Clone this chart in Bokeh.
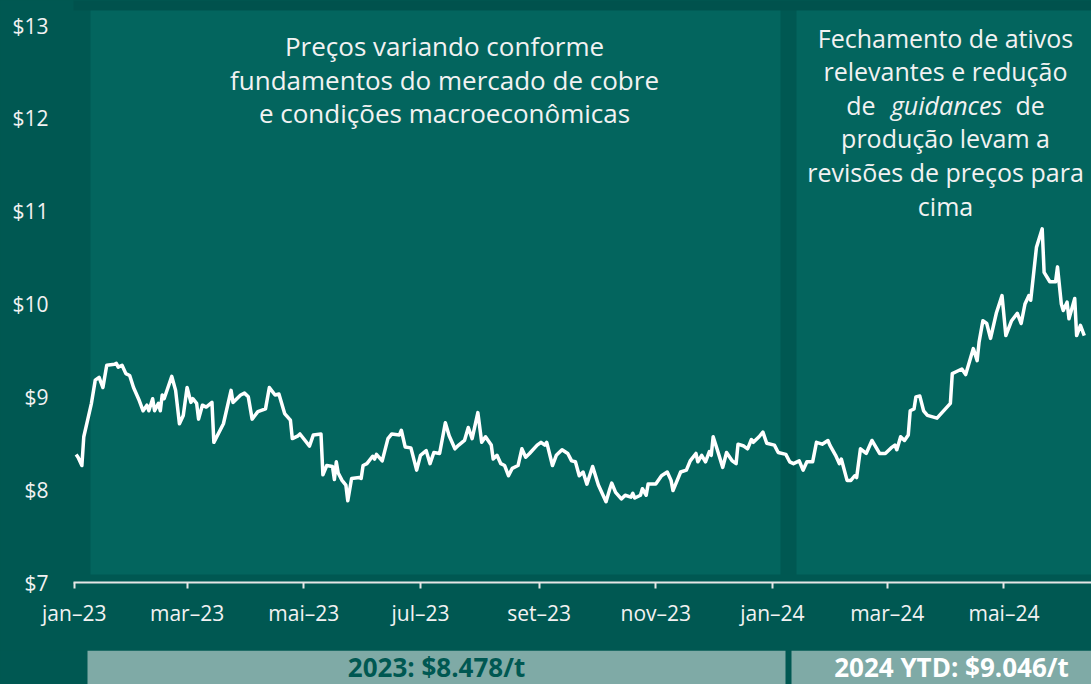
from datetime import datetime, timedelta
import pandas as pd
from bokeh.plotting import figure
from bokeh.layouts import column
from bokeh.models import FixedTicker, NumeralTickFormatter, CustomJSTickFormatter, Range1d
from bokeh.core.properties import value
from bokeh.embed import file_html
from bokeh.resources import INLINE

# ---------------- data (copper price, thousand US$/t) ----------------
dates = [
    "2023-01-02", "2023-01-03", "2023-01-05", "2023-01-06", "2023-01-08", "2023-01-10", "2023-01-12",
    "2023-01-14", "2023-01-16", "2023-01-18", "2023-01-22", "2023-01-23", "2023-01-24", "2023-01-26",
    "2023-01-28", "2023-01-30", "2023-02-01", "2023-02-04", "2023-02-06", "2023-02-08", "2023-02-09",
    "2023-02-11", "2023-02-12", "2023-02-14", "2023-02-15", "2023-02-16", "2023-02-17", "2023-02-21",
    "2023-02-23", "2023-02-25", "2023-02-27", "2023-03-01", "2023-03-03", "2023-03-04", "2023-03-06",
    "2023-03-07", "2023-03-09", "2023-03-11", "2023-03-14", "2023-03-15", "2023-03-20", "2023-03-24",
    "2023-03-25", "2023-03-29", "2023-03-31", "2023-04-02", "2023-04-04", "2023-04-07", "2023-04-11",
    "2023-04-13", "2023-04-16", "2023-04-18", "2023-04-21", "2023-04-24", "2023-04-25", "2023-04-28",
    "2023-04-29", "2023-05-04", "2023-05-06", "2023-05-10", "2023-05-11", "2023-05-13", "2023-05-16",
    "2023-05-17", "2023-05-18", "2023-05-19", "2023-05-21", "2023-05-23", "2023-05-24", "2023-05-26",
    "2023-05-30", "2023-05-31", "2023-06-01", "2023-06-03", "2023-06-06", "2023-06-07", "2023-06-08",
    "2023-06-11", "2023-06-14", "2023-06-16", "2023-06-20", "2023-06-21", "2023-06-23", "2023-06-26",
    "2023-06-29", "2023-07-01", "2023-07-04", "2023-07-06", "2023-07-08", "2023-07-11", "2023-07-14",
    "2023-07-16", "2023-07-19", "2023-07-21", "2023-07-24", "2023-07-26", "2023-07-28", "2023-07-31",
    "2023-08-02", "2023-08-04", "2023-08-07", "2023-08-08", "2023-08-10", "2023-08-12", "2023-08-14",
    "2023-08-16", "2023-08-18", "2023-08-21", "2023-08-23", "2023-08-25", "2023-08-27", "2023-08-31",
    "2023-09-02", "2023-09-04", "2023-09-05", "2023-09-08", "2023-09-10", "2023-09-13", "2023-09-16",
    "2023-09-18", "2023-09-20", "2023-09-22", "2023-09-24", "2023-09-26", "2023-09-29", "2023-10-02",
    "2023-10-06", "2023-10-08", "2023-10-09", "2023-10-11", "2023-10-14", "2023-10-16", "2023-10-19",
    "2023-10-20", "2023-10-21", "2023-10-24", "2023-10-25", "2023-10-27", "2023-10-28", "2023-11-01",
    "2023-11-04", "2023-11-07", "2023-11-09", "2023-11-10", "2023-11-14", "2023-11-17", "2023-11-19",
    "2023-11-22", "2023-11-23", "2023-11-25", "2023-11-27", "2023-11-29", "2023-11-30", "2023-12-01",
    "2023-12-03", "2023-12-06", "2023-12-08", "2023-12-11", "2023-12-13", "2023-12-14", "2023-12-17",
    "2023-12-19", "2023-12-21", "2023-12-22", "2023-12-25", "2023-12-27", "2023-12-29", "2024-01-02",
    "2024-01-04", "2024-01-08", "2024-01-10", "2024-01-12", "2024-01-15", "2024-01-17", "2024-01-19",
    "2024-01-22", "2024-01-24", "2024-01-27", "2024-01-30", "2024-01-31", "2024-02-03", "2024-02-05",
    "2024-02-06", "2024-02-09", "2024-02-11", "2024-02-13", "2024-02-14", "2024-02-16", "2024-02-19",
    "2024-02-22", "2024-02-26", "2024-02-29", "2024-03-03", "2024-03-05", "2024-03-06", "2024-03-08",
    "2024-03-10", "2024-03-12", "2024-03-13", "2024-03-15", "2024-03-16", "2024-03-18", "2024-03-20",
    "2024-03-22", "2024-03-27", "2024-04-03", "2024-04-04", "2024-04-06", "2024-04-09", "2024-04-11",
    "2024-04-14", "2024-04-15", "2024-04-17", "2024-04-18", "2024-04-20", "2024-04-22", "2024-04-24",
    "2024-04-27", "2024-04-30", "2024-05-02", "2024-05-05", "2024-05-08", "2024-05-10", "2024-05-12",
    "2024-05-14", "2024-05-15", "2024-05-18", "2024-05-21", "2024-05-22", "2024-05-25", "2024-05-28",
    "2024-05-29", "2024-05-31", "2024-06-01", "2024-06-03", "2024-06-04", "2024-06-07", "2024-06-08",
    "2024-06-10", "2024-06-12",
]
prices = [
    8.38, 8.35, 8.26, 8.57, 8.75, 8.93, 9.18,
    9.21, 9.10, 9.34, 9.35, 9.36, 9.32, 9.34,
    9.25, 9.23, 9.10, 8.96, 8.85, 8.91, 8.85,
    8.98, 8.85, 8.93, 8.85, 9.02, 8.98, 9.22,
    9.07, 8.71, 8.80, 9.10, 8.94, 8.98, 8.93,
    8.76, 8.91, 8.89, 8.94, 8.51, 8.71, 9.07,
    8.94, 9.02, 9.04, 9.00, 8.76, 8.84, 8.87,
    9.10, 9.02, 9.03, 8.82, 8.75, 8.55, 8.58,
    8.60, 8.47, 8.59, 8.60, 8.16, 8.26, 8.25,
    8.11, 8.30, 8.18, 8.10, 8.05, 7.88, 8.12,
    8.13, 8.12, 8.26, 8.28, 8.36, 8.33, 8.38,
    8.31, 8.55, 8.60, 8.59, 8.64, 8.46, 8.45,
    8.21, 8.37, 8.42, 8.28, 8.40, 8.39, 8.72,
    8.58, 8.44, 8.48, 8.53, 8.67, 8.55, 8.83,
    8.51, 8.57, 8.48, 8.33, 8.37, 8.28, 8.26,
    8.15, 8.23, 8.26, 8.44, 8.35, 8.39, 8.48,
    8.51, 8.48, 8.51, 8.26, 8.37, 8.43, 8.39,
    8.31, 8.30, 8.15, 8.19, 8.06, 8.25, 8.05,
    7.87, 8.01, 8.07, 7.97, 7.90, 7.94, 7.92,
    7.96, 7.91, 7.94, 8.01, 7.94, 8.06, 8.06,
    8.15, 8.19, 8.10, 7.99, 8.19, 8.21, 8.31,
    8.39, 8.30, 8.37, 8.30, 8.41, 8.37, 8.57,
    8.44, 8.24, 8.40, 8.31, 8.28, 8.49, 8.47,
    8.44, 8.54, 8.51, 8.57, 8.62, 8.50, 8.48,
    8.40, 8.38, 8.30, 8.28, 8.31, 8.21, 8.30,
    8.30, 8.51, 8.49, 8.53, 8.48, 8.37, 8.28,
    8.33, 8.10, 8.10, 8.15, 8.13, 8.44, 8.39,
    8.53, 8.39, 8.39, 8.45, 8.48, 8.43, 8.57,
    8.53, 8.59, 8.85, 8.87, 9.00, 9.01, 8.85,
    8.80, 8.77, 8.93, 9.25, 9.27, 9.30, 9.24,
    9.45, 9.52, 9.39, 9.59, 9.82, 9.79, 9.63,
    9.90, 10.09, 9.66, 9.82, 9.90, 9.79, 10.00,
    10.09, 10.04, 10.61, 10.81, 10.34, 10.24, 10.24,
    10.40, 10.00, 9.93, 10.02, 9.84, 10.06, 9.66,
    9.77, 9.66,
]

month_labels = ["jan", "fev", "mar", "abr", "mai", "jun", "jul", "ago", "set", "out", "nov", "dez"]
x_tick_dates = ["2023-01-01", "2023-03-01", "2023-05-01", "2023-07-01", "2023-09-01",
                "2023-11-01", "2024-01-01", "2024-03-01", "2024-05-01"]
y_ticks = [7, 8, 9, 10, 11, 12, 13]

note_left = ["Preços variando conforme",
             "fundamentos do mercado de cobre",
             "e condições macroeconômicas"]
note_right = ["Fechamento de ativos",
              "relevantes e redução",
              None,
              "produção levam a",
              "revisões de preços para",
              "cima"]
note_right_mixed = ["de", "guidances", "de"]
avg_labels = ["2023: $8.478/t", "2024 YTD: $9.046/t"]

# ---------------- layout / style ----------------
FONT = "Open Sans"
OUTER = "#005852"
TOP = "#00524D"
PANEL = "#03655E"
BOX = "#7FAAA6"
TXT = "#F2F2F2"

W = 1091
H_MAIN = 650
H_BOT = 34
BORDER_L = 73
FRAME_H = 582
FRAME_W = W - BORDER_L
PX_PER_DAY = 1.913
PX_PER_USD = 92.83
TXT_SHIFT = 9   # svg text "alphabetic" baseline sits this much lower

X_START = datetime(2022, 12, 31, 15)
X_END = X_START + timedelta(days=FRAME_W / PX_PER_DAY)
Y_START = 7.0
Y_END = 7.0 + FRAME_H / PX_PER_USD

# screen-pixel -> data helpers for annotation placement
def xd(px):
    return X_START + (px - BORDER_L) / FRAME_W * (X_END - X_START)

def yd(py):
    return Y_END - py / FRAME_H * (Y_END - Y_START)

x = pd.to_datetime(dates)

p = figure(width=W, height=H_MAIN, x_axis_type="datetime",
           x_range=Range1d(X_START, X_END), y_range=Range1d(Y_START, Y_END),
           output_backend="svg", toolbar_location=None,
           min_border_left=BORDER_L, min_border_right=0, min_border_top=0,
           min_border_bottom=H_MAIN - FRAME_H)
p.background_fill_color = OUTER
p.border_fill_color = OUTER
p.outline_line_color = None
p.grid.visible = False

# darker top strip and shaded period panels
p.quad(left=[xd(60)], right=[xd(1100)], bottom=[yd(10)], top=[yd(-5)],
       fill_color=TOP, line_color=None)
p.quad(left=[xd(90), xd(796)], right=[xd(780), xd(1100)],
       bottom=[yd(574)] * 2, top=[yd(10)] * 2,
       fill_color=PANEL, line_color=None)

p.line(x, prices, line_color="white", line_width=3.5, line_join="round")

# axes
xa = p.xaxis[0]
xa.ticker = FixedTicker(ticks=[pd.Timestamp(d).value // 10**6 for d in x_tick_dates])
xa.formatter = CustomJSTickFormatter(args=dict(m=month_labels), code="""
    const d = new Date(tick);
    return m[d.getUTCMonth()] + '\u2013' + String(d.getUTCFullYear()).slice(2);
""")
xa.axis_line_color = "#E6E6E6"
xa.axis_line_width = 2
xa.major_tick_line_color = "#E6E6E6"
xa.major_tick_line_width = 2
xa.major_tick_out = 6
xa.major_tick_in = 0
xa.minor_tick_line_color = None
xa.major_label_standoff = 10
xa.major_label_text_font = FONT
xa.major_label_text_font_size = "21px"
xa.major_label_text_color = TXT

ya = p.yaxis[0]
ya.ticker = FixedTicker(ticks=y_ticks)
ya.formatter = NumeralTickFormatter(format="$0")
ya.axis_line_color = None
ya.major_tick_line_color = None
ya.minor_tick_line_color = None
ya.major_tick_out = 0
ya.major_tick_in = 0
ya.major_label_standoff = 25
ya.major_label_text_font = FONT
ya.major_label_text_font_size = "21px"
ya.major_label_text_color = TXT

# annotations
left_base = [54.3, 88, 121.7]
p.text(x=[xd(444)] * 3, y=[yd(v - TXT_SHIFT) for v in left_base], text=note_left,
       text_align="center", text_baseline="alphabetic",
       text_font=value(FONT), text_font_size="26px", text_color=TXT)

R_SIZE = "25px"
r_base = [46, 79.6, 113.2, 146.8, 180.4, 214]
r_lines = [(t, bb) for t, bb in zip(note_right, r_base) if t is not None]
p.text(x=[xd(945)] * len(r_lines), y=[yd(bb - TXT_SHIFT) for _, bb in r_lines],
       text=[t for t, _ in r_lines],
       text_align="center", text_baseline="alphabetic",
       text_font=value(FONT), text_font_size=R_SIZE, text_color=TXT)
mid = r_base[2] - TXT_SHIFT
p.text(x=[xd(875)], y=[yd(mid)], text=[note_right_mixed[0]],
       text_align="right", text_baseline="alphabetic",
       text_font=value(FONT), text_font_size=R_SIZE, text_color=TXT)
p.text(x=[xd(946)], y=[yd(mid)], text=[note_right_mixed[1]],
       text_align="center", text_baseline="alphabetic", text_font_style="italic",
       text_font=value(FONT), text_font_size=R_SIZE, text_color=TXT)
p.text(x=[xd(1015)], y=[yd(mid)], text=[note_right_mixed[2]],
       text_align="left", text_baseline="alphabetic",
       text_font=value(FONT), text_font_size=R_SIZE, text_color=TXT)

# bottom strip with yearly averages
b = figure(width=W, height=H_BOT, x_range=p.x_range, y_range=Range1d(0, H_BOT),
           x_axis_location=None, y_axis_location=None,
           output_backend="svg", toolbar_location=None,
           min_border_left=BORDER_L, min_border_right=0, min_border_top=0, min_border_bottom=0)
b.background_fill_color = OUTER
b.border_fill_color = OUTER
b.outline_line_color = None
b.grid.visible = False
b.quad(left=[xd(87), xd(791)], right=[xd(785), xd(1100)], bottom=[-2, -2], top=[H_BOT, H_BOT],
       fill_color=BOX, line_color=None)
b.text(x=[xd(436), xd(951)], y=[18] * 2, text=avg_labels,
       text_align="center", text_baseline="alphabetic",
       text_font=value(FONT), text_font_size="26px", text_font_style="bold",
       text_color=[OUTER, "white"])

layout = column(p, b, spacing=0, styles={"background-color": OUTER})
open("out.html", "w").write(file_html(layout, INLINE))
